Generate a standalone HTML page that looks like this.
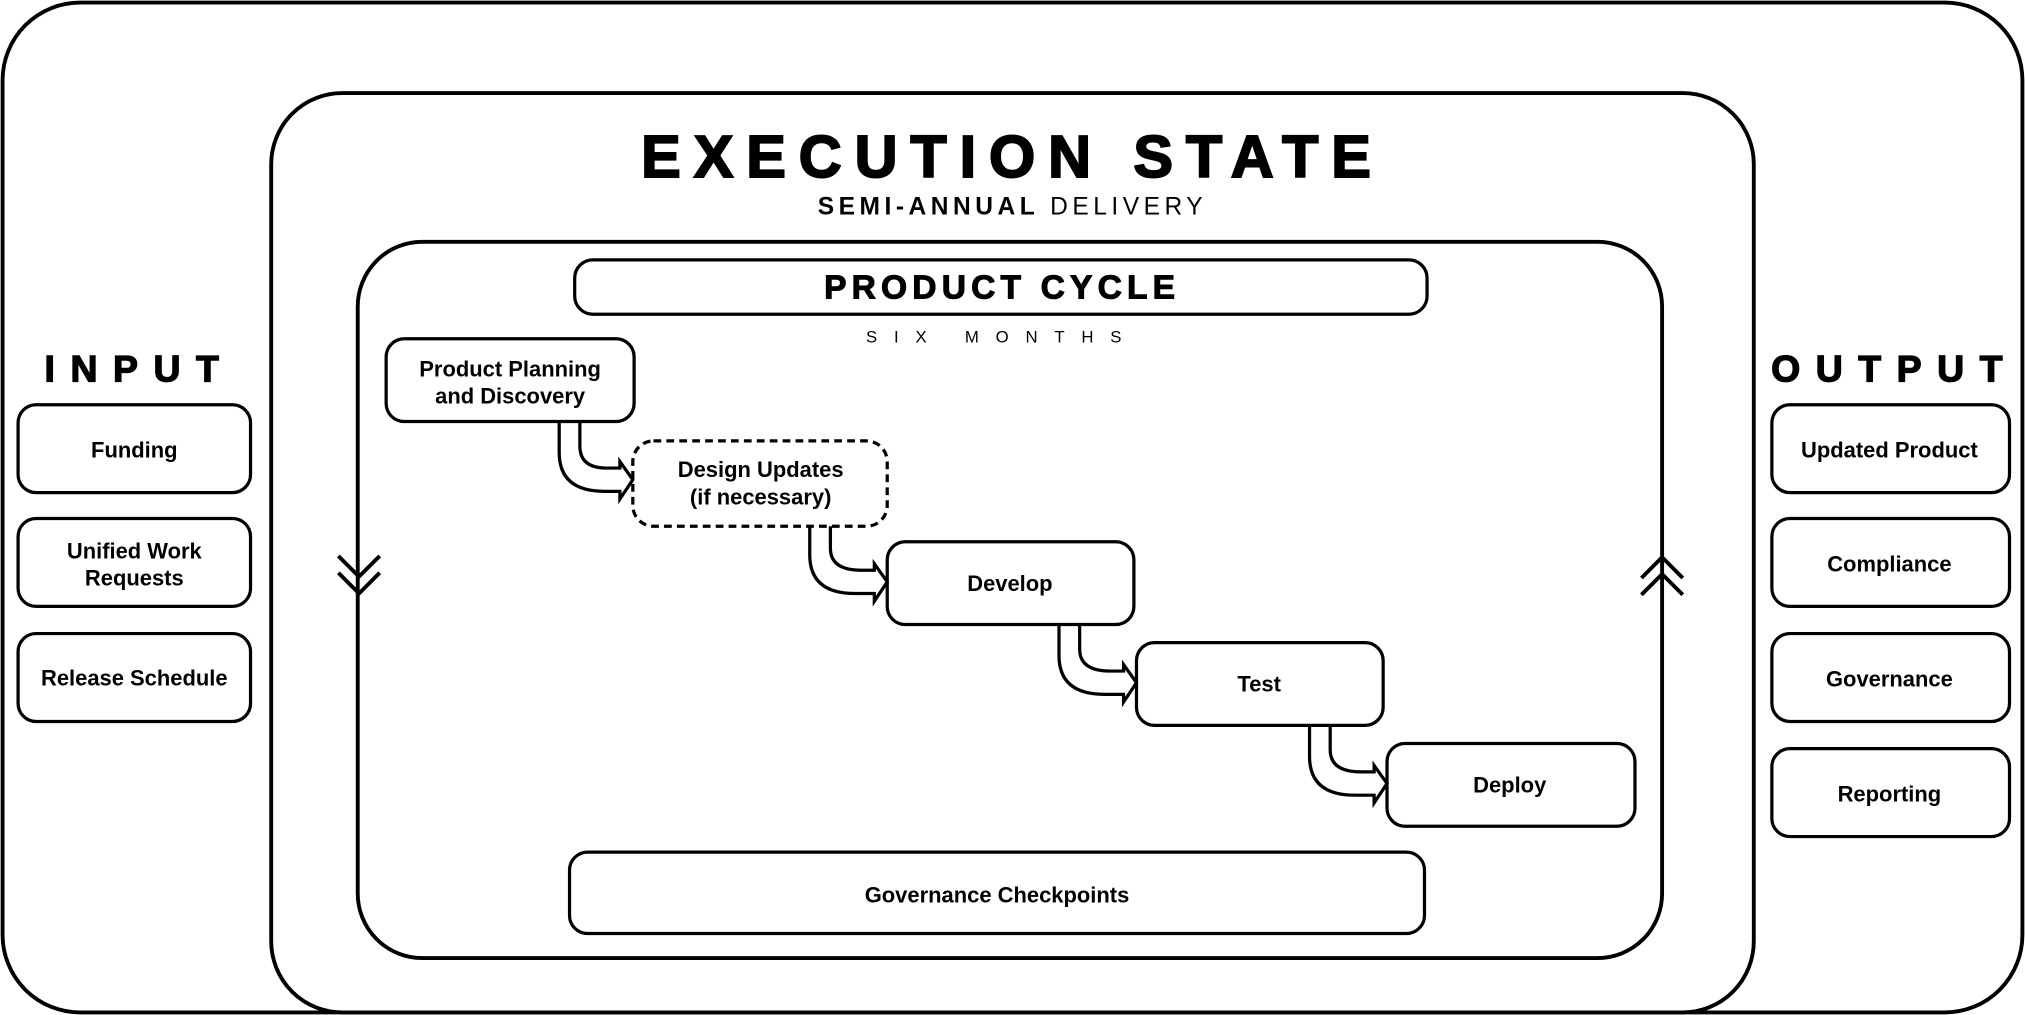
<!DOCTYPE html>
<html><head><meta charset="utf-8"><style>
html,body{margin:0;padding:0;background:#fff}
svg{display:block}
text{font-family:"Liberation Sans",Arial,sans-serif;fill:#000}
</style></head><body>
<svg width="2025" height="1015" viewBox="0 0 1568 785" preserveAspectRatio="none" xmlns="http://www.w3.org/2000/svg">
<g fill="#fff" stroke="#000" stroke-width="3">
<rect x="2" y="2" width="1564" height="781" rx="60"/>
<rect x="210" y="72" width="1148" height="711" rx="55"/>
<rect x="277" y="187" width="1010" height="554" rx="50"/>
<rect x="445" y="201" width="660" height="42" rx="14" stroke-width="2.5"/>
<g stroke-width="2.5">
<rect x="14" y="313" width="180" height="68" rx="14"/>
<rect x="14" y="401" width="180" height="68" rx="14"/>
<rect x="14" y="490" width="180" height="68" rx="14"/>
<rect x="1372" y="313" width="184" height="68" rx="14"/>
<rect x="1372" y="401" width="184" height="68" rx="14"/>
<rect x="1372" y="490" width="184" height="68" rx="14"/>
<rect x="1372" y="579" width="184" height="68" rx="14"/>
<rect x="299" y="262" width="192" height="64" rx="14"/>
<rect x="490" y="341" width="197" height="66" rx="16" stroke-dasharray="6,4"/>
<rect x="687" y="419" width="191" height="64" rx="14"/>
<rect x="880" y="497" width="191" height="64" rx="14"/>
<rect x="1074" y="575" width="192" height="64" rx="14"/>
<rect x="441" y="659" width="662" height="63" rx="14"/>
</g>
</g>
<g fill="none" stroke="#000" stroke-width="2.5">
<path d="M433 326 V350 Q433 380 468 380 H480 V386 L490 371 L480 357 V362 H470 Q449 362 449 345 V326"/>
<path d="M627 407 V429 Q627 459 662 459 H677 V465 L687 450 L677 436 V441 H667 Q643 441 643 424 V407"/>
<path d="M820 483 V507 Q820 537 855 537 H870 V543 L880 528 L870 514 V519 H860 Q836 519 836 502 V483"/>
<path d="M1014 561 V585 Q1014 615 1049 615 H1064 V621 L1074 606 L1064 592 V597 H1054 Q1030 597 1030 580 V561"/>
<path d="M262 430 L278 446 L294 430 M262 443 L278 459 L294 443" stroke-width="3"/>
<path d="M1271 447 L1287 431 L1303 447 M1271 460 L1287 444 L1303 460" stroke-width="3"/>
</g>
<g text-anchor="middle" font-weight="bold">
<text x="784" y="137" font-size="46" letter-spacing="10" stroke="#000" stroke-width="1.5">EXECUTION STATE</text>
<text x="784" y="166" font-size="19" letter-spacing="3.5">SEMI-ANNUAL <tspan font-weight="normal">DELIVERY</tspan></text>
<text x="776" y="231" font-size="26" letter-spacing="4" stroke="#000" stroke-width="0.8">PRODUCT CYCLE</text>
<text x="776" y="265" font-size="13" font-weight="normal" letter-spacing="13">SIX MONTHS</text>
<text x="108" y="295" font-size="29" letter-spacing="12" stroke="#000" stroke-width="1">INPUT</text>
<text x="1467" y="295" font-size="29" letter-spacing="12" stroke="#000" stroke-width="1">OUTPUT</text>
<g font-size="17">
<text x="104" y="354">Funding</text>
<text x="104" y="432">Unified Work</text>
<text x="104" y="453">Requests</text>
<text x="104" y="530">Release Schedule</text>
<text x="1463" y="354">Updated Product</text>
<text x="1463" y="442">Compliance</text>
<text x="1463" y="531">Governance</text>
<text x="1463" y="620">Reporting</text>
<text x="395" y="291">Product Planning</text>
<text x="395" y="312">and Discovery</text>
<text x="589" y="369">Design Updates</text>
<text x="589" y="390">(if necessary)</text>
<text x="782" y="457">Develop</text>
<text x="975" y="535">Test</text>
<text x="1169" y="613">Deploy</text>
<text x="772" y="698">Governance Checkpoints</text>
</g>
</g>
</svg>
</body></html>
